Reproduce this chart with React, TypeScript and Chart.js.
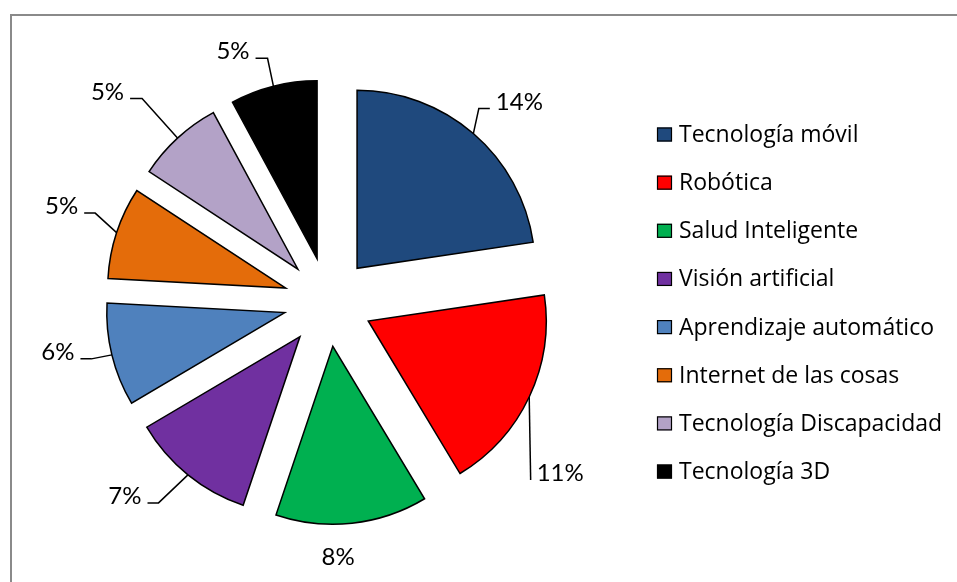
import React, { useEffect, useRef } from 'react';
import { Chart, registerables } from 'chart.js';

Chart.register(...registerables);

// ---- data ----
const categories = [
  'Tecnología móvil',
  'Robótica',
  'Salud Inteligente',
  'Visión artificial',
  'Aprendizaje automático',
  'Internet de las cosas',
  'Tecnología Discapacidad',
  'Tecnología 3D',
];
// shares (%); labels show them rounded
const values = [13.8, 11.4, 8.4, 6.9, 5.7, 5.1, 4.8, 4.8];
const valueLabels = values.map((v) => `${Math.round(v)}%`);

// ---- styles / layout ----
const colors = ['#1F497D', '#FF0000', '#00B050', '#7030A0', '#4F81BD', '#E46C0A', '#B3A2C7', '#000000'];
const EXPLODE = 44.5;
const RADIUS = 178;
const LABEL_FONT = 'Lato, "Open Sans", sans-serif';
const LEGEND_FONT = '"Open Sans", Lato, sans-serif';
const LABEL_SIZE = 24;
const LEGEND_SIZE = 23;
// offsets of each data label's centre from its slice's outer mid point; leader settings
const labelLayout = [
  { dx: 46, dy: -33, leader: true, tail: 11 },
  { dx: 31, dy: 75, leader: true, tail: 0 },
  { dx: -14, dy: 33, leader: false, tail: 0 },
  { dx: -63, dy: 20, leader: true, tail: 11 },
  { dx: -54, dy: -4, leader: true, tail: 11 },
  { dx: -55, dy: -27.5, leader: true, tail: 11 },
  { dx: -70, dy: -47.5, leader: true, tail: 12 },
  { dx: -40.5, dy: -36, leader: true, tail: 12 },
];

const framePlugin = {
  id: 'frame',
  beforeDraw(chart: any) {
    const ctx = chart.ctx;
    ctx.save();
    ctx.fillStyle = '#ffffff';
    ctx.fillRect(0, 0, chart.width, chart.height);
    ctx.strokeStyle = '#8a8a8a';
    ctx.lineWidth = 2;
    ctx.beginPath();
    ctx.moveTo(11, chart.height);
    ctx.lineTo(11, 15);
    ctx.lineTo(chart.width, 15);
    ctx.stroke();
    ctx.restore();
  },
};

const explodePlugin = {
  id: 'explode',
  beforeDatasetDraw(chart: any, args: any) {
    const ctx = chart.ctx;
    args.meta.data.forEach((arc: any) => {
      const mid = (arc.startAngle + arc.endAngle) / 2;
      ctx.save();
      ctx.translate(Math.cos(mid) * EXPLODE, Math.sin(mid) * EXPLODE);
      arc.draw(ctx);
      ctx.restore();
    });
    return false;
  },
};

const labelPlugin = {
  id: 'sliceLabels',
  afterDatasetsDraw(chart: any) {
    const ctx = chart.ctx;
    const meta = chart.getDatasetMeta(0);
    ctx.save();
    ctx.font = `${LABEL_SIZE}px ${LABEL_FONT}`;
    ctx.fillStyle = '#000';
    ctx.strokeStyle = '#000';
    ctx.lineWidth = 1.5;
    ctx.textAlign = 'center';
    ctx.textBaseline = 'alphabetic';
    meta.data.forEach((arc: any, i: number) => {
      const lay = labelLayout[i];
      const mid = (arc.startAngle + arc.endAngle) / 2;
      const ex = arc.x + Math.cos(mid) * EXPLODE;
      const ey = arc.y + Math.sin(mid) * EXPLODE;
      const R = arc.outerRadius;
      const px = ex + Math.cos(mid) * R;
      const py = ey + Math.sin(mid) * R;
      const tx = px + lay.dx;
      const ty = py + lay.dy;
      const base = ty + 9;
      const text = valueLabels[i];
      ctx.fillText(text, tx, base);
      if (lay.leader) {
        const w = ctx.measureText(text).width;
        const lineY = base - 1;
        let endX: number, elbowX: number;
        if (tx < px) {
          endX = tx + w / 2 + 6;
          elbowX = endX + lay.tail;
        } else {
          endX = tx - w / 2 - 6;
          elbowX = endX - lay.tail;
        }
        ctx.beginPath();
        ctx.moveTo(px, py);
        ctx.lineTo(elbowX, lineY);
        ctx.lineTo(endX, lineY);
        ctx.stroke();
      }
    });
    ctx.restore();
  },
};

const legendPlugin = {
  id: 'sideLegend',
  afterDraw(chart: any) {
    const ctx = chart.ctx;
    const area = chart.chartArea;
    const ds = chart.data.datasets[0];
    const x0 = area.right + 1;
    const top = 134.5;
    const step = 48.15;
    ctx.save();
    ctx.font = `${LEGEND_SIZE}px ${LEGEND_FONT}`;
    ctx.textAlign = 'left';
    ctx.textBaseline = 'alphabetic';
    chart.data.labels.forEach((lab: string, i: number) => {
      const cy = top + i * step;
      ctx.fillStyle = ds.backgroundColor[i];
      ctx.fillRect(x0, cy - 7, 15, 14);
      ctx.strokeStyle = '#000';
      ctx.lineWidth = 1.2;
      ctx.strokeRect(x0 + 0.5, cy - 6.5, 14, 13);
      ctx.fillStyle = '#000';
      ctx.fillText(lab, x0 + 22, cy + 7.5);
    });
    ctx.restore();
  },
};

export default function App() {
  const ref = useRef<HTMLCanvasElement | null>(null);
  useEffect(() => {
    document.body.style.margin = '0';
    const canvas = ref.current;
    if (!canvas) return;
    const chart = new Chart(canvas, {
      type: 'pie',
      data: {
        labels: categories,
        datasets: [
          {
            data: values,
            backgroundColor: colors,
            borderColor: '#000000',
            borderWidth: 1.5,
            borderJoinStyle: 'miter',
            radius: RADIUS,
          } as any,
        ],
      },
      options: {
        responsive: false,
        animation: false,
        layout: { padding: { left: 0, right: 301, top: 22, bottom: 0 } },
        plugins: {
          legend: { display: false },
          tooltip: { enabled: false },
        },
      },
      plugins: [framePlugin, explodePlugin, labelPlugin, legendPlugin],
    });
    return () => chart.destroy();
  }, []);
  return (
    <div style={{ width: 957, height: 582 }}>
      <canvas ref={ref} width={957} height={582} style={{ display: 'block', width: 957, height: 582 }} />
    </div>
  );
}
